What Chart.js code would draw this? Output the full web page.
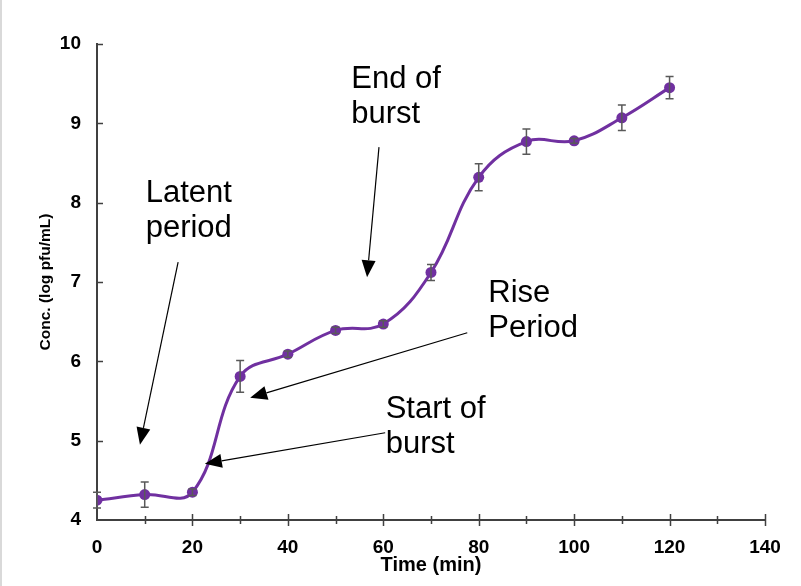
<!DOCTYPE html>
<html>
<head>
<meta charset="utf-8">
<script src="https://cdn.jsdelivr.net/npm/chart.js@4"></script>
<style>
  html, body { margin: 0; padding: 0; background: #fff; }
  #wrap { position: relative; width: 801px; height: 586px; box-sizing: border-box; border-left: 2px solid #d9d9d9; }
</style>
</head>
<body>
<div id="wrap"><canvas id="growth-chart" width="799" height="586"></canvas></div>
<script>
// One-step growth curve: phage titre over time
const times  = [0, 10, 20, 30, 40, 50, 60, 70, 80, 90, 100, 110, 120];
const concs  = [4.25, 4.32, 4.35, 5.81, 6.09, 6.39, 6.47, 7.12, 8.32, 8.77, 8.78, 9.07, 9.45];
const errors = [0.10, 0.16, 0.04, 0.20, 0.04, 0.04, 0.04, 0.10, 0.17, 0.16, 0.03, 0.16, 0.14];

const xTicks = [0, 20, 40, 60, 80, 100, 120, 140];
const yTicks = [4, 5, 6, 7, 8, 9, 10];

// Phase labels: text lines, first baseline (data units), arrow from -> to (data units)
const notes = [
  { lines: ['Latent', 'period'],  at: [10.2, 8.01], from: [17.0, 7.25], to: [9.0, 4.95] },
  { lines: ['End of', 'burst'],   at: [53.3, 9.44], from: [59.1, 8.70], to: [56.6, 7.06] },
  { lines: ['Rise', 'Period'],    at: [82.0, 6.75], from: [77.6, 6.36], to: [32.1, 5.54] },
  { lines: ['Start of', 'burst'], at: [60.5, 5.28], from: [60.4, 5.10], to: [22.6, 4.71] },
];

const FONT = 'Liberation Sans, Arial, sans-serif';

// vertical error bars with caps
const errorBars = {
  id: 'errorBars',
  afterDatasetsDraw(chart) {
    const { ctx, scales: { x, y } } = chart;
    ctx.save();
    ctx.strokeStyle = '#595959';
    ctx.lineWidth = 1.5;
    times.forEach((t, i) => {
      const px = x.getPixelForValue(t);
      const top = y.getPixelForValue(concs[i] + errors[i]);
      const bot = y.getPixelForValue(concs[i] - errors[i]);
      ctx.beginPath();
      ctx.moveTo(px, top); ctx.lineTo(px, bot);
      ctx.moveTo(px - 4, top); ctx.lineTo(px + 4, top);
      ctx.moveTo(px - 4, bot); ctx.lineTo(px + 4, bot);
      ctx.stroke();
    });
    ctx.restore();
  },
};

// axis tick marks: x crosses the axis every 10 min, y points inward
const axisTicks = {
  id: 'axisTicks',
  afterDraw(chart) {
    const { ctx, chartArea: a, scales: { x, y } } = chart;
    ctx.save();
    ctx.strokeStyle = '#404040';
    ctx.lineWidth = 1.5;
    ctx.beginPath();
    for (let v = 10; v <= 140; v += 10) {
      const px = Math.round(x.getPixelForValue(v)) + 0.5;
      const h = v % 20 === 0 ? 6 : 4;
      ctx.moveTo(px, a.bottom - h); ctx.lineTo(px, a.bottom + h);
    }
    yTicks.forEach(v => {
      if (v === 4) return;
      const py = Math.round(y.getPixelForValue(v)) + 0.5;
      ctx.moveTo(a.left, py); ctx.lineTo(a.left + 6, py);
    });
    ctx.stroke();
    ctx.restore();
  },
};

// phase annotations with filled arrowheads
const phaseNotes = {
  id: 'phaseNotes',
  afterDraw(chart) {
    const { ctx, scales: { x, y } } = chart;
    ctx.save();
    ctx.fillStyle = '#000';
    ctx.strokeStyle = '#000';
    ctx.font = '31px ' + FONT;
    ctx.textAlign = 'left';
    ctx.textBaseline = 'alphabetic';
    notes.forEach(n => {
      const tx = x.getPixelForValue(n.at[0]);
      const ty = y.getPixelForValue(n.at[1]);
      n.lines.forEach((s, i) => ctx.fillText(s, tx, ty + i * 35));

      const x1 = x.getPixelForValue(n.from[0]), y1 = y.getPixelForValue(n.from[1]);
      const x2 = x.getPixelForValue(n.to[0]),   y2 = y.getPixelForValue(n.to[1]);
      const ang = Math.atan2(y2 - y1, x2 - x1);
      const len = 17, half = 7;
      const bx = x2 - len * Math.cos(ang), by = y2 - len * Math.sin(ang);
      ctx.lineWidth = 1.2;
      ctx.beginPath();
      ctx.moveTo(x1, y1); ctx.lineTo(bx, by);
      ctx.stroke();
      ctx.beginPath();
      ctx.moveTo(x2, y2);
      ctx.lineTo(bx + half * Math.sin(ang), by - half * Math.cos(ang));
      ctx.lineTo(bx - half * Math.sin(ang), by + half * Math.cos(ang));
      ctx.closePath();
      ctx.fill();
    });
    ctx.restore();
  },
};

new Chart(document.getElementById('growth-chart'), {
  type: 'line',
  data: {
    datasets: [{
      data: times.map((t, i) => ({ x: t, y: concs[i] })),
      borderColor: '#7030a0',
      backgroundColor: '#7030a0',
      borderWidth: 3,
      pointRadius: 5.5,
      pointHoverRadius: 5.5,
      pointBorderWidth: 0,
      tension: 0.4,
      fill: false,
    }],
  },
  options: {
    responsive: false,
    animation: false,
    layout: { padding: { left: 28, right: 36, top: 44, bottom: 9 } },
    plugins: { legend: { display: false }, tooltip: { enabled: false } },
    scales: {
      x: {
        type: 'linear',
        min: 0, max: 140,
        afterBuildTicks: s => { s.ticks = xTicks.map(v => ({ value: v })); },
        afterFit: s => { s.height = 57; },
        grid: { display: false, drawTicks: false },
        border: { display: true, color: '#404040', width: 2 },
        ticks: { color: '#000', padding: 16, font: { family: FONT, size: 19, weight: 'bold' } },
        title: { display: true, text: 'Time (min)', color: '#000', padding: { top: 0, bottom: 0 },
                 font: { family: FONT, size: 20, weight: 'bold' } },
      },
      y: {
        min: 4, max: 10,
        afterBuildTicks: s => { s.ticks = yTicks.map(v => ({ value: v })); },
        afterFit: s => { s.width = 67; },
        grid: { display: false, drawTicks: false },
        border: { display: true, color: '#404040', width: 2 },
        ticks: { color: '#000', padding: 16, font: { family: FONT, size: 19, weight: 'bold' } },
        title: { display: true, text: 'Conc. (log pfu/mL)', color: '#000', padding: { top: 6, bottom: 0 },
                 font: { family: FONT, size: 15.5, weight: 'bold' } },
      },
    },
  },
  plugins: [errorBars, axisTicks, phaseNotes],
});
</script>
</body>
</html>
